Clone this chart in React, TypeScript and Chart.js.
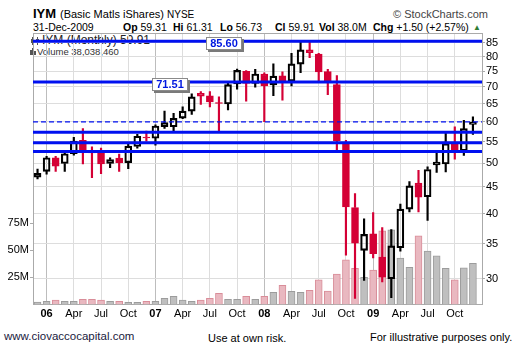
import React, { useEffect, useRef } from 'react';
import { Chart, registerables } from 'chart.js';
Chart.register(...registerables);

// ---------- data ----------
const months = [
  'Dec 05',
  'Jan 06', 'Feb 06', 'Mar 06', 'Apr 06', 'May 06', 'Jun 06', 'Jul 06', 'Aug 06', 'Sep 06', 'Oct 06', 'Nov 06', 'Dec 06',
  'Jan 07', 'Feb 07', 'Mar 07', 'Apr 07', 'May 07', 'Jun 07', 'Jul 07', 'Aug 07', 'Sep 07', 'Oct 07', 'Nov 07', 'Dec 07',
  'Jan 08', 'Feb 08', 'Mar 08', 'Apr 08', 'May 08', 'Jun 08', 'Jul 08', 'Aug 08', 'Sep 08', 'Oct 08', 'Nov 08', 'Dec 08',
  'Jan 09', 'Feb 09', 'Mar 09', 'Apr 09', 'May 09', 'Jun 09', 'Jul 09', 'Aug 09', 'Sep 09', 'Oct 09', 'Nov 09', 'Dec 09',
];
const openP = [
  47.0,
  48.2, 51.2, 49.9, 52.1, 55.3, 52.6, 52.9, 49.9, 51.1, 50.1, 53.8, 56.1,
  55.8, 58.7, 58.7, 61.0, 62.9, 68.0, 67.3, 65.3, 64.9, 70.9, 75.0, 71.1,
  74.1, 70.6, 73.5, 71.8, 77.4, 82.4, 80.9, 74.9, 70.7, 54.7, 41.1, 34.0,
  36.6, 33.0, 30.0, 34.4, 40.8, 45.8, 43.1, 49.6, 49.8, 54.5, 52.8, 59.31,
];
const highP = [
  48.7,
  51.5, 51.5, 52.9, 56.0, 58.2, 53.7, 53.4, 51.2, 52.0, 54.5, 56.8, 57.6,
  59.2, 62.9, 62.3, 64.1, 67.9, 68.6, 68.6, 67.0, 71.4, 75.7, 75.2, 75.6,
  74.5, 77.5, 74.8, 81.2, 85.3, 85.9, 81.2, 75.6, 73.6, 55.3, 43.7, 39.1,
  40.2, 37.6, 37.3, 41.7, 46.1, 48.4, 49.2, 52.4, 57.4, 58.7, 60.4, 61.31,
];
const lowP = [
  46.6,
  47.6, 48.2, 48.2, 51.8, 49.8, 46.9, 47.7, 49.0, 48.2, 48.8, 53.4, 55.1,
  54.1, 58.3, 57.4, 60.8, 62.0, 64.8, 64.1, 57.4, 63.2, 69.3, 65.7, 69.9,
  60.0, 67.3, 66.0, 70.3, 74.5, 79.6, 71.9, 67.6, 52.7, 33.3, 27.5, 29.8,
  32.9, 29.6, 27.6, 33.9, 40.3, 40.3, 38.8, 48.0, 48.1, 50.9, 51.7, 56.73,
];
const closeP = [
  47.8,
  51.2, 49.3, 52.1, 55.1, 52.8, 52.3, 49.8, 50.8, 50.1, 53.9, 56.3, 55.9,
  58.9, 59.8, 60.9, 62.9, 67.0, 67.2, 65.5, 65.1, 70.7, 75.3, 71.1, 74.1,
  70.3, 73.4, 71.8, 77.5, 82.4, 81.4, 74.8, 71.9, 55.2, 41.2, 35.1, 36.5,
  33.5, 30.2, 34.7, 40.8, 45.2, 43.0, 48.6, 50.2, 54.5, 52.8, 58.2, 59.91,
];
// volume in millions
const volumeM = [
  2.2,
  3, 4, 3, 3, 4.8, 4.8, 4, 3, 3, 2, 2, 3,
  3, 5.7, 7.6, 4, 3, 4, 5.7, 10.4, 4.8, 4.8, 7.6, 4.8,
  7.6, 11.3, 17.8, 12.2, 11.3, 13.1, 22.7, 12.5, 28.2, 41.2, 33.5, 25.2,
  31.9, 68, 69, 42.8, 34.4, 63.4, 49.5, 44.9, 33.5, 22.7, 33.8, 38.0,
];
const priceTickValues = [30, 35, 40, 45, 50, 55, 60, 65, 70, 75, 80, 85];
const volumeTickValues = [25, 50, 75];
const xTickIndices = [1, 4, 7, 10, 13, 16, 19, 22, 25, 28, 31, 34, 37, 40, 43, 46];
const solidLevels = [85.6, 71.51, 57.3, 54.7, 52.6];
const dashedLevels = [60.0];
const labeledLevels = [85.6, 71.51];
const labeledLevelAnchors = [20.55, 14.55];

// ---------- styles ----------
const RED = '#d40035';
const BLUE = '#0010f0';
const FONT = '"Liberation Sans", Arial, sans-serif';

const levelPlugin = {
  id: 'levels',
  beforeDatasetsDraw(chart: any) {
    const { ctx, chartArea: a } = chart;
    ctx.save();
    ctx.strokeStyle = '#aaaaaa';
    ctx.lineWidth = 1;
    ctx.beginPath();
    ctx.moveTo(a.left, Math.round(a.top) + 0.5);
    ctx.lineTo(a.right, Math.round(a.top) + 0.5);
    ctx.stroke();
    ctx.restore();
  },
  afterDatasetsDraw(chart: any) {
    const { ctx, chartArea: a, scales } = chart;
    const ys = scales.y;
    ctx.save();
    ctx.beginPath();
    ctx.rect(a.left, a.top, a.right - a.left, a.bottom - a.top);
    ctx.clip();
    ctx.strokeStyle = BLUE;
    dashedLevels.forEach((v) => {
      const py = ys.getPixelForValue(v);
      ctx.lineWidth = 1.2;
      ctx.setLineDash([5, 3]);
      ctx.beginPath();
      ctx.moveTo(a.left, py);
      ctx.lineTo(a.right, py);
      ctx.stroke();
    });
    ctx.setLineDash([]);
    solidLevels.forEach((v) => {
      const py = ys.getPixelForValue(v);
      ctx.lineWidth = 3;
      ctx.beginPath();
      ctx.moveTo(a.left, py);
      ctx.lineTo(a.right, py);
      ctx.stroke();
    });
    ctx.restore();

    ctx.save();
    labeledLevels.forEach((v, k) => {
      const cx = scales.x.getPixelForValue(labeledLevelAnchors[k]);
      const py = ys.getPixelForValue(v);
      const text = v.toFixed(2);
      ctx.font = 'bold 11px ' + FONT;
      const w = Math.round(ctx.measureText(text).width + 8);
      const h = 13;
      const left = Math.round(cx - w / 2);
      const top = Math.round(py - 4);
      ctx.fillStyle = '#7a7a7a';
      ctx.fillRect(left + 2, top + 2, w, h);
      ctx.fillStyle = '#ffffff';
      ctx.fillRect(left, top, w, h);
      ctx.strokeStyle = '#8a8a8a';
      ctx.lineWidth = 1;
      ctx.strokeRect(left + 0.5, top + 0.5, w - 1, h - 1);
      ctx.fillStyle = '#0018e0';
      ctx.textAlign = 'center';
      ctx.textBaseline = 'middle';
      ctx.fillText(text, left + w / 2, top + h / 2 + 0.5);
    });
    ctx.restore();
  },
};

function CandleChart() {
  const ref = useRef<HTMLCanvasElement | null>(null);
  useEffect(() => {
    if (!ref.current) return;
    const up = closeP.map((c, i) => c >= openP[i]);
    const chart = new Chart(ref.current, {
      type: 'bar',
      data: {
        datasets: [
          {
            label: 'Volume',
            data: volumeM.map((v, i) => ({ x: i, y: v })),
            yAxisID: 'yv',
            backgroundColor: up.map((u) => (u ? '#bfbfbf' : '#e9b8c0')),
            borderColor: up.map((u) => (u ? '#9c9c9c' : '#d98d99')),
            borderWidth: 1,
            barThickness: 7,
            grouped: false,
            order: 5,
          } as any,
          {
            label: 'upper wick',
            data: highP.map((h, i) => ({ x: i, y: [Math.max(openP[i], closeP[i]), h] })),
            yAxisID: 'y',
            backgroundColor: up.map((u) => (u ? '#000000' : RED)),
            borderWidth: 0,
            barThickness: 1.5,
            grouped: false,
            order: 3,
          } as any,
          {
            label: 'lower wick',
            data: lowP.map((l, i) => ({ x: i, y: [l, Math.min(openP[i], closeP[i])] })),
            yAxisID: 'y',
            backgroundColor: up.map((u) => (u ? '#000000' : RED)),
            borderWidth: 0,
            barThickness: 1.5,
            grouped: false,
            order: 3,
          } as any,
          {
            label: 'IYM',
            data: openP.map((o, i) => ({ x: i, y: [o, closeP[i]] })),
            yAxisID: 'y',
            backgroundColor: up.map((u) => (u ? 'rgba(255,255,255,0)' : RED)),
            borderColor: up.map((u) => (u ? '#000000' : RED)),
            borderWidth: 1.5,
            borderSkipped: false,
            barThickness: 7,
            grouped: false,
            order: 1,
          } as any,
        ],
      },
      options: {
        animation: false,
        responsive: false,
        maintainAspectRatio: false,
        layout: { padding: { top: 33, left: 0, right: 0, bottom: 0 } },
        plugins: { legend: { display: false }, tooltip: { enabled: false }, title: { display: false } },
        scales: {
          x: {
            type: 'linear',
            position: 'bottom',
            offset: false,
            min: -0.5,
            max: 49,
            afterBuildTicks: (s: any) => {
              s.ticks = xTickIndices.map((v) => ({ value: v }));
            },
            afterFit: (s: any) => {
              s.height = 50.5;
            },
            grid: {
              offset: false,
              color: (c: any) => {
                const m = months[c.tick?.value] || '';
                return m.startsWith('Jan') ? '#bdbdbd' : '#dddddd';
              },
              drawTicks: false,
            },
            border: { color: '#aaaaaa' },
            ticks: {
              autoSkip: false,
              maxRotation: 0,
              padding: 3,
              color: '#000',
              font: (c: any) => {
                const m = months[c.tick?.value] || '';
                return { family: FONT, size: 11, weight: m.startsWith('Jan') ? 'bold' : 'normal' } as any;
              },
              callback: (v: any) => {
                const m = months[v] || '';
                return m.startsWith('Jan') ? m.slice(4) : m.slice(0, 3);
              },
            },
          },
          y: {
            type: 'logarithmic',
            position: 'right',
            min: 26.78,
            max: 88.8,
            afterBuildTicks: (s: any) => {
              s.ticks = priceTickValues.map((v) => ({ value: v }));
            },
            afterFit: (s: any) => {
              s.width = 38;
            },
            grid: { color: '#dddddd', tickColor: '#aaaaaa', tickLength: 3 },
            border: { color: '#aaaaaa' },
            ticks: {
              padding: 1,
              color: '#000',
              font: { family: FONT, size: 11 },
              callback: (v: any) => String(v),
            },
          },
          yv: {
            type: 'linear',
            position: 'left',
            min: 0,
            max: 251,
            afterBuildTicks: (s: any) => {
              s.ticks = volumeTickValues.map((v) => ({ value: v }));
            },
            afterFit: (s: any) => {
              s.width = 33;
            },
            grid: { drawOnChartArea: false, tickColor: '#aaaaaa', tickLength: 3 },
            border: { color: '#aaaaaa' },
            ticks: {
              padding: 1,
              color: '#000',
              font: { family: FONT, size: 11 },
              callback: (v: any) => v + 'M',
            },
          },
        },
      } as any,
      plugins: [levelPlugin],
    });
    return () => chart.destroy();
  }, []);
  return (
    <canvas
      ref={ref}
      width={520}
      height={355}
      style={{ position: 'absolute', left: 0, top: 0, width: 520, height: 355, zIndex: 1 }}
    />
  );
}

const t = (left: number, top: number, size: number, extra: React.CSSProperties = {}): React.CSSProperties => ({
  position: 'absolute',
  left,
  top,
  fontSize: size,
  lineHeight: 1,
  fontFamily: FONT,
  whiteSpace: 'nowrap',
  color: '#000',
  ...extra,
});

export default function App() {
  return (
    <div style={{ position: 'absolute', left: 0, top: 0, width: 520, height: 355, background: '#fff', overflow: 'hidden' }}>
      {/* header */}
      <div style={t(33, 7, 13, { fontWeight: 'bold' })}>IYM</div>
      <div style={t(60, 8.7, 11)}>(Basic Matls iShares)</div>
      <div style={t(167, 9.5, 10)}>NYSE</div>
      <div style={t(393, 8.7, 11, { color: '#444' })}>© StockCharts.com</div>

      <div style={t(33, 22.1, 10.5)}>31-Dec-2009</div>
      <div style={t(123, 22.1, 10.5)}><b>Op</b> 59.31</div>
      <div style={t(173, 22.1, 10.5)}><b>Hi</b> 61.31</div>
      <div style={t(220, 22.1, 10.5)}><b>Lo</b> 56.73</div>
      <div style={t(275, 22.1, 10.5)}><b>Cl</b> 59.91</div>
      <div style={t(319, 22.1, 10.5)}><b>Vol</b> 38.0M</div>
      <div style={t(373, 22.1, 10.5)}><b>Chg</b> +1.50 (+2.57%)</div>
      <div style={t(473, 24, 8, { color: '#2e7d32' })}>▲</div>

      {/* in-chart legend, under the canvas */}
      <div style={{ position: 'absolute', left: 31, top: 37, width: 10, height: 8, zIndex: 0 }}>
        <div style={{ position: 'absolute', left: 1, top: 0, width: 1, height: 8, background: '#555' }} />
        <div style={{ position: 'absolute', left: 0, top: 2, width: 3, height: 4, border: '1px solid #555', boxSizing: 'border-box' }} />
        <div style={{ position: 'absolute', left: 6, top: 0, width: 1, height: 8, background: '#555' }} />
        <div style={{ position: 'absolute', left: 5, top: 2, width: 3, height: 4, background: '#555' }} />
      </div>
      <div style={t(42, 33.8, 12, { color: '#222', zIndex: 0 })}>IYM (Monthly) 59.91</div>
      <div style={{ position: 'absolute', left: 30, top: 48, width: 6, height: 7, zIndex: 0 }}>
        <div style={{ position: 'absolute', left: 0, top: 2, width: 1.5, height: 5, background: '#555' }} />
        <div style={{ position: 'absolute', left: 2, top: 0, width: 1.5, height: 7, background: '#555' }} />
        <div style={{ position: 'absolute', left: 4, top: 3, width: 1.5, height: 4, background: '#555' }} />
      </div>
      <div style={t(37, 47, 9.5, { color: '#333', zIndex: 0 })}>Volume 38,038,460</div>

      <CandleChart />

      {/* footer */}
      <div style={t(4, 331.3, 11.5, { color: '#1a1a40' })}>www.ciovaccocapital.com</div>
      <div style={t(208, 333.2, 11)}>Use at own risk.</div>
      <div style={t(370, 331.7, 11)}>For illustrative purposes only.</div>
    </div>
  );
}
